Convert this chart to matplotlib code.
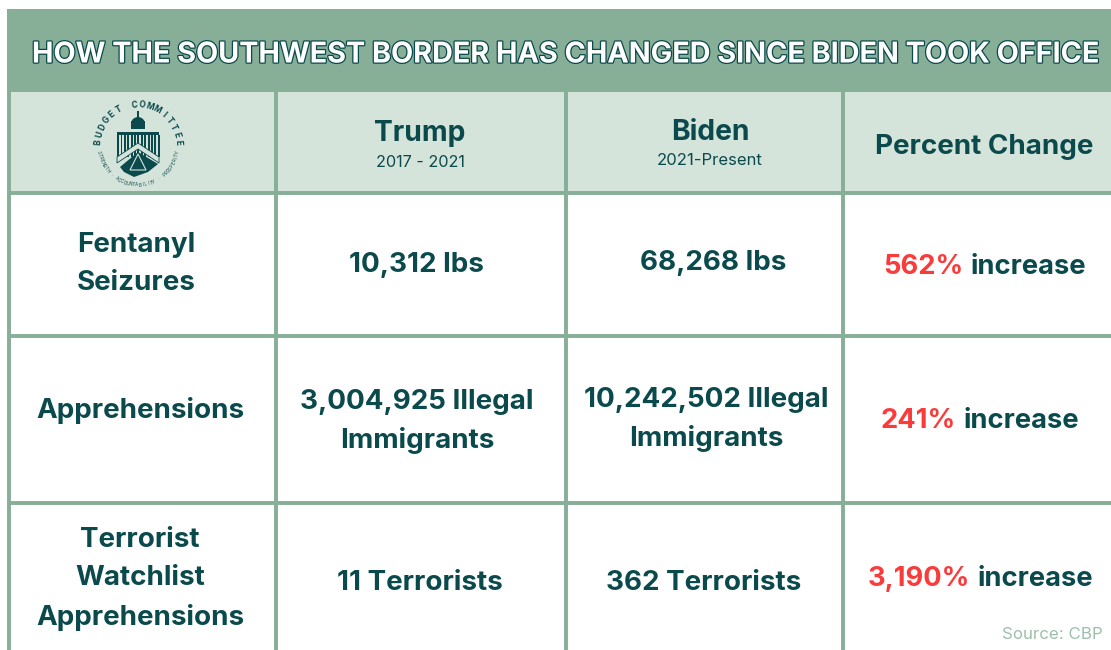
import numpy as np
import matplotlib
matplotlib.use('Agg')
import matplotlib.pyplot as plt
import matplotlib.patheffects as pe
from matplotlib.patches import Rectangle, Polygon, Wedge

TITLE = "HOW THE SOUTHWEST BORDER HAS CHANGED SINCE BIDEN TOOK OFFICE"
headers = ["Trump", "Biden", "Percent Change"]
subheads = ["2017 - 2021", "2021-Present", ""]
row_labels = ["Fentanyl\nSeizures", "Apprehensions", "Terrorist\nWatchlist\nApprehensions"]
trump_vals = ["10,312 lbs", "3,004,925 Illegal\nImmigrants", "11 Terrorists"]
biden_vals = ["68,268 lbs", "10,242,502 Illegal\nImmigrants", "362 Terrorists"]
pct_vals = ["562%", "241%", "3,190%"]
SOURCE = "Source: CBP"

GREEN = '#87ae97'; PALE = '#d5e4db'; DARK = '#0b4a4c'; RED = '#fb3a3a'; SRC = '#9dbfab'
FONT = ['Inter', 'DejaVu Sans']

W, H = 1111, 650
fig = plt.figure(figsize=(W/100, H/100), dpi=100, facecolor='white')
ax = fig.add_axes([0, 0, 1, 1])
ax.set_xlim(0, W); ax.set_ylim(H, 0); ax.axis('off')

ax.add_patch(Rectangle((7, 9), W, 83, fc=GREEN, ec='none'))
ax.add_patch(Rectangle((10, 92), W, 100, fc=PALE, ec='none'))
for y in (193, 336, 503):
    ax.plot([7, W], [y, y], color=GREEN, lw=2.8, solid_capstyle='butt')
for x in (8.5, 275.5, 565.5, 842.5):
    ax.plot([x, x], [91, H], color=GREEN, lw=2.8, solid_capstyle='butt')

def t(x, y, s, size=21, color=DARK, weight='bold', ha='center', **kw):
    return ax.text(x, y + 2.5, s, fontsize=size, color=color, fontweight=weight, ha=ha, va='center',
                   family=FONT, **kw)

t(565, 52.5, TITLE, size=20.7, color='white',
  path_effects=[pe.withStroke(linewidth=1.8, foreground=DARK)])

t(420, 131, headers[0], size=20.3)
t(420, 160, subheads[0], size=11.7, weight='normal')
t(710, 130, headers[1], size=20.3)
t(710, 158, subheads[1], size=12, weight='normal')
t(984, 144, headers[2], size=20)

SP = 1.6
for (x, y), s in zip([(136, 262), (140, 408), (140, 576.5)], row_labels):
    t(x, y, s, size=20, linespacing=SP)
for (x, y), s in zip([(416, 262), (417, 419), (420, 580)], trump_vals):
    t(x, y, s, size=20, linespacing=SP)
for (x, y), s in zip([(713, 260), (706, 417), (704, 580)], biden_vals):
    t(x, y, s, size=20, linespacing=SP)

# Two-colour percent cells: place "increase" right after the measured red text
fig.canvas.draw()
rend = fig.canvas.get_renderer()
for (x, y), s in zip([(883, 264), (881, 419), (868, 576)], pct_vals):
    a = t(x, y, s, size=19.7, color=RED, ha='left')
    bb = a.get_window_extent(rend)
    t(bb.x1 + 7, y, "increase", size=19.7, ha='left')

t(1103, 632, SOURCE, size=12.2, color=SRC, weight='normal', ha='right')

# Budget Committee seal (simplified)
cx, cy = 138, 145
name = "BUDGET COMMITTEE"
for ch, an in zip(name, np.linspace(176, 4, len(name))):
    r = 40
    ax.text(cx + r*np.cos(np.radians(an)), cy - r*np.sin(np.radians(an)), ch,
            fontsize=6, fontweight='bold', color=DARK, family=FONT,
            rotation=an - 90, ha='center', va='center')
motto = "STRENGTH · ACCOUNTABILITY · PROSPERITY"
for ch, an in zip(motto, np.linspace(190, 350, len(motto))):
    r = 40
    ax.text(cx + r*np.cos(np.radians(an)), cy - r*np.sin(np.radians(an)), ch,
            fontsize=3.2, color=DARK, family=FONT, rotation=an + 90, ha='center', va='center')
ax.add_patch(Wedge((cx, 124), 7, 180, 360, fc=DARK, ec='none'))
ax.add_patch(Rectangle((cx-7, 121), 14, 8, fc=DARK, ec='none'))
ax.add_patch(Rectangle((cx-0.7, 111), 1.4, 8, fc=DARK, ec='none'))
ax.add_patch(Rectangle((cx-21, 132), 42, 3, fc=DARK, ec='none'))
for dx in np.arange(-20, 21, 3.4):
    ax.add_patch(Rectangle((cx+dx-0.9, 135), 1.8, 22, fc=DARK, ec='none'))
ax.add_patch(Polygon([(cx-21, 157), (cx, 143), (cx+21, 157), (cx+21, 163), (cx, 149), (cx-21, 163)],
                     fc=PALE, ec=DARK, lw=0.6))
ax.add_patch(Polygon([(cx-18, 167), (cx, 152), (cx+20, 164), (cx+10, 172), (cx-4, 177), (cx-14, 172)],
                     fc=DARK, ec='none'))
ax.add_patch(Polygon([(cx, 154), (cx-8, 170), (cx+8, 170)], fc='none', ec=PALE, lw=0.8))

fig.savefig('out.png', dpi=100)
